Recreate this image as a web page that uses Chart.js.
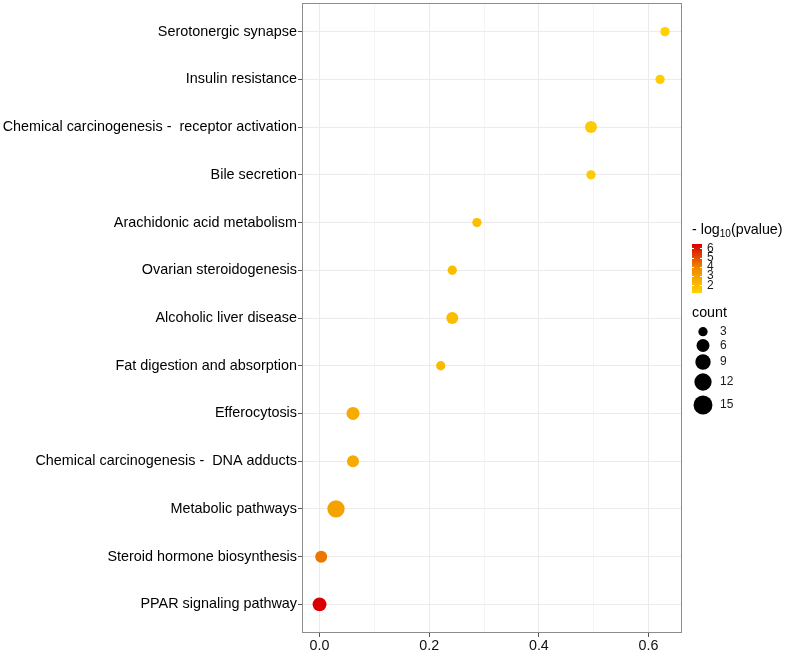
<!DOCTYPE html>
<html>
<head>
<meta charset="utf-8">
<script src="https://cdn.jsdelivr.net/npm/chart.js@4/dist/chart.umd.min.js"></script>
<style>
  body { margin: 0; background: #fff; }
  canvas { display: block; }
</style>
</head>
<body>
<canvas id="dot" width="786" height="650"></canvas>
<script>
// pathways, top to bottom
const categories = [
  'Serotonergic synapse',
  'Insulin resistance',
  'Chemical carcinogenesis -  receptor activation',
  'Bile secretion',
  'Arachidonic acid metabolism',
  'Ovarian steroidogenesis',
  'Alcoholic liver disease',
  'Fat digestion and absorption',
  'Efferocytosis',
  'Chemical carcinogenesis -  DNA adducts',
  'Metabolic pathways',
  'Steroid hormone biosynthesis',
  'PPAR signaling pathway'
];
const xValues = [0.630, 0.621, 0.495, 0.495, 0.287, 0.242, 0.242, 0.221, 0.061, 0.061, 0.030, 0.003, 0.000];
const counts  = [3, 3, 5, 3, 3, 3, 5, 3, 6, 5, 12, 5, 7];
const logP    = [1.20, 1.35, 1.45, 1.46, 1.90, 1.95, 1.95, 2.00, 2.65, 2.60, 2.95, 4.20, 6.43];
// axis / legend breaks
const xTicks = [0, 0.1, 0.2, 0.3, 0.4, 0.5, 0.6];
const colorBreaks = [2, 3, 4, 5, 6];
const sizeBreaks = [3, 6, 9, 12, 15];

const FONT = "'Liberation Sans', Arial, sans-serif";
Chart.defaults.font.family = FONT;

const pLo = Math.min(...logP);
const pHi = Math.max(...logP);

function hex(c) {
  return [parseInt(c.slice(1, 3), 16), parseInt(c.slice(3, 5), 16), parseInt(c.slice(5, 7), 16)];
}
const stops = [[0, hex('#FFD200')], [0.5, hex('#F08A00')], [1, hex('#D80000')]];
function colorFor(v) {
  let t = (v - pLo) / (pHi - pLo);
  t = Math.max(0, Math.min(1, t));
  for (let i = 0; i < stops.length - 1; i++) {
    const a = stops[i], b = stops[i + 1];
    if (t <= b[0]) {
      const f = (t - a[0]) / (b[0] - a[0]);
      const c = a[1].map((x, k) => Math.round(x + (b[1][k] - x) * f));
      return 'rgb(' + c.join(',') + ')';
    }
  }
  return 'rgb(' + stops[stops.length - 1][1].join(',') + ')';
}
// diameter in px from count
function radiusFor(n) {
  return (5.6 + 3.7 * Math.sqrt(Math.max(0, n - 2))) / 2;
}

const isMajor = v => Math.abs(Math.round(v * 10)) % 2 === 0;
const noPad = () => ({ left: 0, top: 0, right: 0, bottom: 0 });

const legendPlugin = {
  id: 'ggLegend',
  afterDraw(chart) {
    const ctx = chart.ctx;
    const a = chart.chartArea;
    ctx.save();
    // panel border
    ctx.strokeStyle = '#8c8c8c';
    ctx.lineWidth = 1;
    ctx.strokeRect(a.left + 0.5, a.top + 0.5, a.right - a.left - 1, a.bottom - a.top - 1);

    // colour legend title
    ctx.fillStyle = '#000';
    ctx.textBaseline = 'middle';
    ctx.textAlign = 'left';
    let x = 692;
    ctx.font = '14.3px ' + FONT;
    ctx.fillText('- log', x, 230);
    x += ctx.measureText('- log').width;
    ctx.font = '10px ' + FONT;
    ctx.fillText('10', x, 234);
    x += ctx.measureText('10').width;
    ctx.font = '14.3px ' + FONT;
    ctx.fillText('(pvalue)', x, 230);

    // colour bar
    const barL = 692, barW = 10;
    const yOf = v => 285.3 - (v - 2) * 9.25;
    const yTop = yOf(pHi), yBot = yOf(pLo);
    for (let y = Math.floor(yTop); y < yBot; y++) {
      const v = 2 + (285.3 - (y + 0.5)) / 9.25;
      ctx.fillStyle = colorFor(v);
      ctx.fillRect(barL, y, barW, 1);
    }
    ctx.strokeStyle = '#fff';
    ctx.lineWidth = 1;
    ctx.font = '12px ' + FONT;
    ctx.fillStyle = '#1a1a1a';
    colorBreaks.forEach(b => {
      const y = Math.round(yOf(b)) + 0.5;
      ctx.beginPath();
      ctx.moveTo(barL, y); ctx.lineTo(barL + 2, y);
      ctx.moveTo(barL + barW - 2, y); ctx.lineTo(barL + barW, y);
      ctx.stroke();
      ctx.fillText(String(b), 707, yOf(b));
    });

    // size legend
    ctx.fillStyle = '#000';
    ctx.font = '14.3px ' + FONT;
    ctx.fillText('count', 692, 313);
    const keyY = [331.7, 345.5, 362, 382, 405];
    sizeBreaks.forEach((s, i) => {
      ctx.fillStyle = '#000';
      ctx.beginPath();
      ctx.arc(703, keyY[i], radiusFor(s), 0, Math.PI * 2);
      ctx.fill();
      ctx.fillStyle = '#1a1a1a';
      ctx.font = '12px ' + FONT;
      ctx.fillText(String(s), 720, keyY[i]);
    });
    ctx.restore();
  }
};

new Chart(document.getElementById('dot').getContext('2d'), {
  type: 'scatter',
  data: {
    datasets: [{
      data: categories.map((c, i) => ({ x: xValues[i], y: i })),
      pointRadius: counts.map(radiusFor),
      pointHoverRadius: counts.map(radiusFor),
      backgroundColor: logP.map(colorFor),
      borderWidth: 0
    }]
  },
  options: {
    responsive: false,
    animation: false,
    layout: { autoPadding: false, padding: { top: 3, right: 104, bottom: 0, left: 0 } },
    plugins: { legend: { display: false }, tooltip: { enabled: false } },
    scales: {
      x: {
        type: 'linear',
        min: -0.032,
        max: 0.661,
        afterBuildTicks: s => { s.ticks = xTicks.map(v => ({ value: v })); },
        afterFit: s => { s.height = 17; s.getPadding = noPad; },
        ticks: {
          autoSkip: false,
          maxRotation: 0,
          padding: 0,
          color: '#111',
          font: { size: 14.3 },
          callback: v => isMajor(v) ? v.toFixed(1) : ''
        },
        grid: {
          color: '#EBEBEB',
          lineWidth: c => isMajor(c.tick.value) ? 1 : 0.5,
          tickColor: c => isMajor(c.tick.value) ? '#555' : 'rgba(0,0,0,0)',
          tickLength: 4
        },
        border: { display: false }
      },
      y: {
        type: 'linear',
        reverse: true,
        min: -0.6,
        max: 12.6,
        afterBuildTicks: s => { s.ticks = categories.map((c, i) => ({ value: i })); },
        afterFit: s => { s.width = 302; s.getPadding = noPad; },
        ticks: {
          autoSkip: false,
          padding: 1,
          color: '#000',
          font: { size: 14.4 },
          callback: v => categories[v]
        },
        grid: { color: '#EBEBEB', lineWidth: 1, tickColor: '#555', tickLength: 4 },
        border: { display: false }
      }
    }
  },
  plugins: [legendPlugin]
});
</script>
</body>
</html>
